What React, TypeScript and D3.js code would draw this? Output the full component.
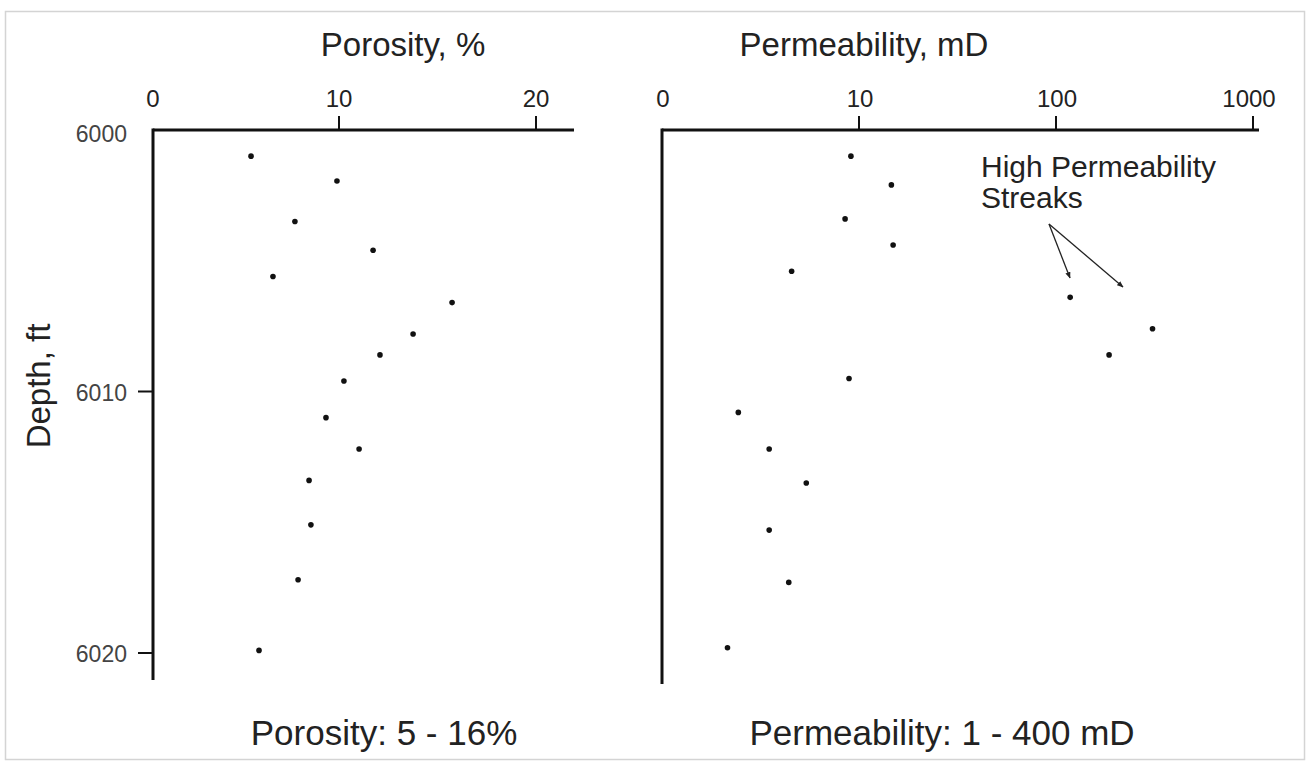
import React from "react";
import * as d3 from "d3";

const depthTicks = [6000, 6010, 6020];
const porosityTicks = [0, 10, 20];
const permTicks = [1, 10, 100, 1000];
const permTickLabels = ["0", "10", "100", "1000"];

const porosityDepth = [6001, 6001.95, 6003.5, 6004.6, 6005.6, 6006.6, 6007.8, 6008.6, 6009.6, 6011, 6012.2, 6013.4, 6015.1, 6017.2, 6019.9];
const porosityValue = [5.27, 9.89, 7.63, 11.73, 6.45, 15.74, 13.76, 12.08, 10.25, 9.3, 11.02, 8.39, 8.49, 7.8, 5.7];

const permDepth = [6001, 6002.1, 6003.4, 6004.4, 6005.4, 6006.4, 6007.6, 6008.6, 6009.5, 6010.8, 6012.2, 6013.5, 6015.3, 6017.3, 6019.8];
const permValue = [9.1, 14.6, 8.5, 14.9, 4.55, 118, 309, 186, 8.9, 2.44, 3.5, 5.4, 3.5, 4.4, 2.15];

const FONT = "'Liberation Sans', Arial, sans-serif";

export default function App() {
  const y = d3.scaleLinear().domain([6000, 6020]).range([130, 653]);
  const xp = d3.scaleLinear().domain([0, 10, 20]).range([153, 339, 536]);
  const xk = d3.scaleLog().domain([1, 1000]).range([662, 1253]);

  const leftX = xp(0);
  const rightX = xk(1);
  const axisTop = y(6000);
  const tickLen = 14;

  return (
    <svg width={1310} height={769} style={{ position: "absolute", left: 0, top: 0, background: "#fff" }} fontFamily={FONT}>
      <defs>
        <marker id="ah" viewBox="0 0 10 10" refX="9" refY="5" markerWidth="5" markerHeight="5" orient="auto">
          <path d="M0,1 L10,5 L0,9 z" fill="#222" />
        </marker>
      </defs>
      <rect x={5.5} y={11.5} width={1299} height={748} fill="none" stroke="#d4d4d4" strokeWidth={1.5} />

      {/* Left panel */}
      <text x={403} y={56} fontSize={33} textAnchor="middle" fill="#222">Porosity, %</text>
      <line x1={leftX} x2={574} y1={axisTop} y2={axisTop} stroke="#111" strokeWidth={3} />
      <line x1={leftX} x2={leftX} y1={axisTop - 1.5} y2={680} stroke="#111" strokeWidth={3} />
      {porosityTicks.map((t) => (
        <g key={"pt" + t}>
          {t !== 0 && <line x1={xp(t)} x2={xp(t)} y1={axisTop} y2={axisTop - tickLen} stroke="#111" strokeWidth={2} />}
          <text x={xp(t)} y={107} fontSize={24} textAnchor="middle" fill="#222">{t}</text>
        </g>
      ))}
      {depthTicks.map((t) => (
        <g key={"dt" + t}>
          {t !== 6000 && <line x1={leftX - 15} x2={leftX} y1={y(t)} y2={y(t)} stroke="#111" strokeWidth={2} />}
          <text x={127} y={y(t) + (t === 6000 ? 12 : 9)} fontSize={23} textAnchor="end" fill="#444">{t}</text>
        </g>
      ))}
      <text transform="translate(50,386) rotate(-90)" fontSize={33} textAnchor="middle" fill="#222">Depth, ft</text>
      {porosityValue.map((v, i) => (
        <circle key={"pp" + i} cx={xp(v)} cy={y(porosityDepth[i])} r={2.8} fill="#111" />
      ))}
      <text x={384} y={745} fontSize={35} textAnchor="middle" fill="#222">Porosity: 5 - 16%</text>

      {/* Right panel */}
      <text x={864} y={56} fontSize={33} textAnchor="middle" fill="#222">Permeability, mD</text>
      <line x1={rightX} x2={1259} y1={axisTop} y2={axisTop} stroke="#111" strokeWidth={3} />
      <line x1={rightX} x2={rightX} y1={axisTop - 1.5} y2={684} stroke="#111" strokeWidth={3} />
      {permTicks.map((t, i) => (
        <g key={"kt" + t}>
          {t !== 1 && <line x1={xk(t)} x2={xk(t)} y1={axisTop} y2={axisTop - tickLen} stroke="#111" strokeWidth={2} />}
          <text x={i === 3 ? xk(t) - 4 : xk(t) + 1} y={107} fontSize={24} textAnchor="middle" fill="#222">{permTickLabels[i]}</text>
        </g>
      ))}
      {permValue.map((v, i) => (
        <circle key={"kp" + i} cx={xk(v)} cy={y(permDepth[i])} r={2.8} fill="#111" />
      ))}
      <text x={981} y={177} fontSize={30} fill="#222">High Permeability</text>
      <text x={981} y={208} fontSize={30} fill="#222">Streaks</text>
      <line x1={1049} y1={224} x2={1070} y2={278} stroke="#222" strokeWidth={1.3} markerEnd="url(#ah)" />
      <line x1={1049} y1={224} x2={1123} y2={287} stroke="#222" strokeWidth={1.3} markerEnd="url(#ah)" />
      <text x={942} y={745} fontSize={35} textAnchor="middle" fill="#222">Permeability: 1 - 400 mD</text>
    </svg>
  );
}
